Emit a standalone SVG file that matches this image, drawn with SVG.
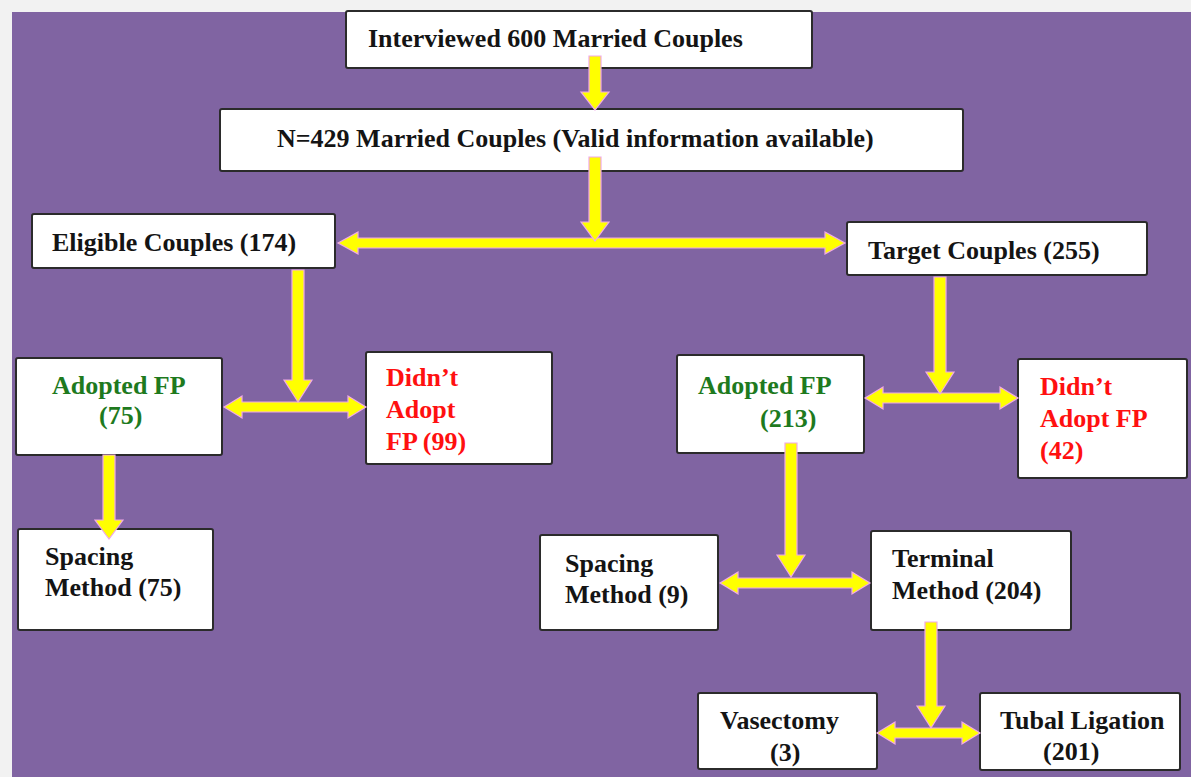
<svg xmlns="http://www.w3.org/2000/svg" width="1191" height="777" viewBox="0 0 1191 777">
<style>
.box{fill:#fff;stroke:#2b2b2b;stroke-width:2}
.t{font-family:"Liberation Serif","Times New Roman",serif;font-weight:bold;font-size:26px;fill:#141414}
.g{fill:#1e7a1e}
.r{fill:#ff1010}
.arr{fill:#ffff00;stroke:#f0a8e8;stroke-width:1.2;stroke-linejoin:miter}
</style>
<rect x="0" y="0" width="1191" height="777" fill="#f2f2f2"/>
<rect x="12" y="12" width="1179" height="765" fill="#8064a2"/>
<g id="n1"><rect class="box" x="346" y="11" width="466" height="57" rx="2"/><text class="t" x="368" y="47">Interviewed 600 Married Couples</text></g>
<g id="n2"><rect class="box" x="220" y="109" width="743" height="62" rx="2"/><text class="t" x="277" y="147">N=429 Married Couples (Valid information available)</text></g>
<g id="n3"><rect class="box" x="32" y="214" width="303" height="54" rx="2"/><text class="t" x="52" y="251">Eligible Couples (174)</text></g>
<g id="n4"><rect class="box" x="847" y="222" width="300" height="53" rx="2"/><text class="t" x="868" y="259">Target Couples (255)</text></g>
<g id="n5"><rect class="box" x="16" y="358" width="206" height="97" rx="2"/><text class="t g" x="52" y="394">Adopted FP</text><text class="t g" x="99" y="424">(75)</text></g>
<g id="n6"><rect class="box" x="366" y="352" width="186" height="112" rx="2"/><text class="t r" x="386" y="386">Didn’t</text><text class="t r" x="386" y="418">Adopt</text><text class="t r" x="386" y="450">FP (99)</text></g>
<g id="n7"><rect class="box" x="677" y="355" width="187" height="98" rx="2"/><text class="t g" x="698" y="394">Adopted FP</text><text class="t g" x="760" y="427">(213)</text></g>
<g id="n8"><rect class="box" x="1018" y="359" width="169" height="119" rx="2"/><text class="t r" x="1040" y="395">Didn’t</text><text class="t r" x="1040" y="427">Adopt FP</text><text class="t r" x="1040" y="459">(42)</text></g>
<g id="n9"><rect class="box" x="18" y="529" width="195" height="101" rx="2"/><text class="t" x="45" y="565">Spacing</text><text class="t" x="45" y="596">Method (75)</text></g>
<g id="n10"><rect class="box" x="540" y="535" width="178" height="95" rx="2"/><text class="t" x="565" y="572">Spacing</text><text class="t" x="565" y="603">Method (9)</text></g>
<g id="n11"><rect class="box" x="871" y="531" width="200" height="99" rx="2"/><text class="t" x="892" y="567">Terminal</text><text class="t" x="892" y="599">Method (204)</text></g>
<g id="n12"><rect class="box" x="698" y="693" width="179" height="76" rx="2"/><text class="t" x="720" y="729">Vasectomy</text><text class="t" x="770" y="761">(3)</text></g>
<g id="n13"><rect class="box" x="980" y="693" width="200" height="77" rx="2"/><text class="t" x="1000" y="729">Tubal Ligation</text><text class="t" x="1043" y="760">(201)</text></g>
<g id="connectors">
<polygon class="arr" points="589,56 601,56 601,92 609,92 595,110 581,92 589,92"/>
<polygon class="arr" points="338,243 358,232 358,238 825,238 825,232 845,243 825,254 825,248 358,248 358,254"/>
<polygon class="arr" points="589,157 601,157 601,222 609,222 595,241 581,222 589,222"/>
<polygon class="arr" points="224,407 242,396 242,402 348,402 348,396 366,407 348,418 348,412 242,412 242,418"/>
<polygon class="arr" points="292,270 304,270 304,380 312,380 298,402 284,380 292,380"/>
<polygon class="arr" points="865,398 883,387 883,393 1000,393 1000,387 1018,398 1000,409 1000,403 883,403 883,409"/>
<polygon class="arr" points="934,277 946,277 946,372 954,372 940,394 926,372 934,372"/>
<polygon class="arr" points="103,455 115,455 115,520 123,520 109,539 95,520 103,520"/>
<polygon class="arr" points="720,583 738,572 738,578 852,578 852,572 870,583 852,594 852,588 738,588 738,594"/>
<polygon class="arr" points="785,443 797,443 797,555 805,555 791,577 777,555 785,555"/>
<polygon class="arr" points="877,733 895,722 895,728 962,728 962,722 980,733 962,744 962,738 895,738 895,744"/>
<polygon class="arr" points="925,622 937,622 937,706 945,706 931,728 917,706 925,706"/>
</g>
</svg>
